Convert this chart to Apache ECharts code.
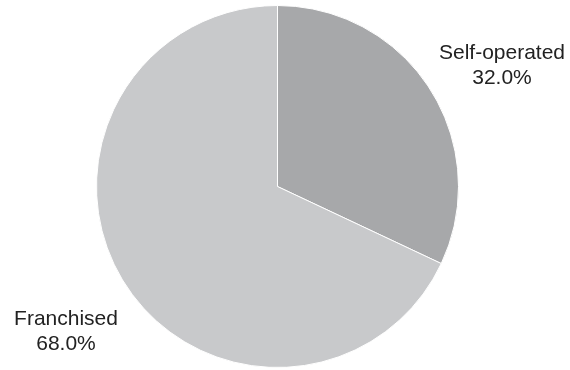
<!DOCTYPE html>
<html>
<head>
<meta charset="utf-8">
<script src="https://cdn.jsdelivr.net/npm/echarts@6/dist/echarts.min.js"></script>
<style>html,body{margin:0;padding:0;background:#fff}#c{width:570px;height:370px}</style>
</head>
<body>
<div id="c"></div>
<script>
var categories = ['Self-operated', 'Franchised'];
var values = [32.0, 68.0];
var colors = ['#a7a8aa', '#c8c9cb'];

var labelPos = [
  {x: 502, y: 66},
  {x: 66, y: 332}
];

var chart = echarts.init(document.getElementById('c'), null, {renderer: 'canvas'});
chart.setOption({
  animation: false,
  backgroundColor: '#ffffff',
  series: [{
    type: 'pie',
    center: [277.5, 186.5],
    radius: [0, 181],
    startAngle: 90,
    clockwise: true,
    data: categories.map(function (c, i) {
      return {name: c, value: values[i], itemStyle: {color: colors[i]}};
    }),
    itemStyle: {borderColor: '#ffffff', borderWidth: 1},
    label: {
      show: true,
      position: 'outside',
      formatter: function (p) { return p.name + '\n' + p.percent.toFixed(1) + '%'; },
      fontFamily: 'Liberation Sans, Arial, sans-serif',
      fontSize: 21,
      lineHeight: 25,
      color: '#222222',
      align: 'center',
      overflow: 'none',
      width: 200
    },
    labelLine: {show: false},
    labelLayout: function (params) {
      var p = labelPos[params.dataIndex];
      return {x: p.x, y: p.y, align: 'center', verticalAlign: 'middle', width: 200};
    },
    emphasis: {disabled: true}
  }]
});
</script>
</body>
</html>
